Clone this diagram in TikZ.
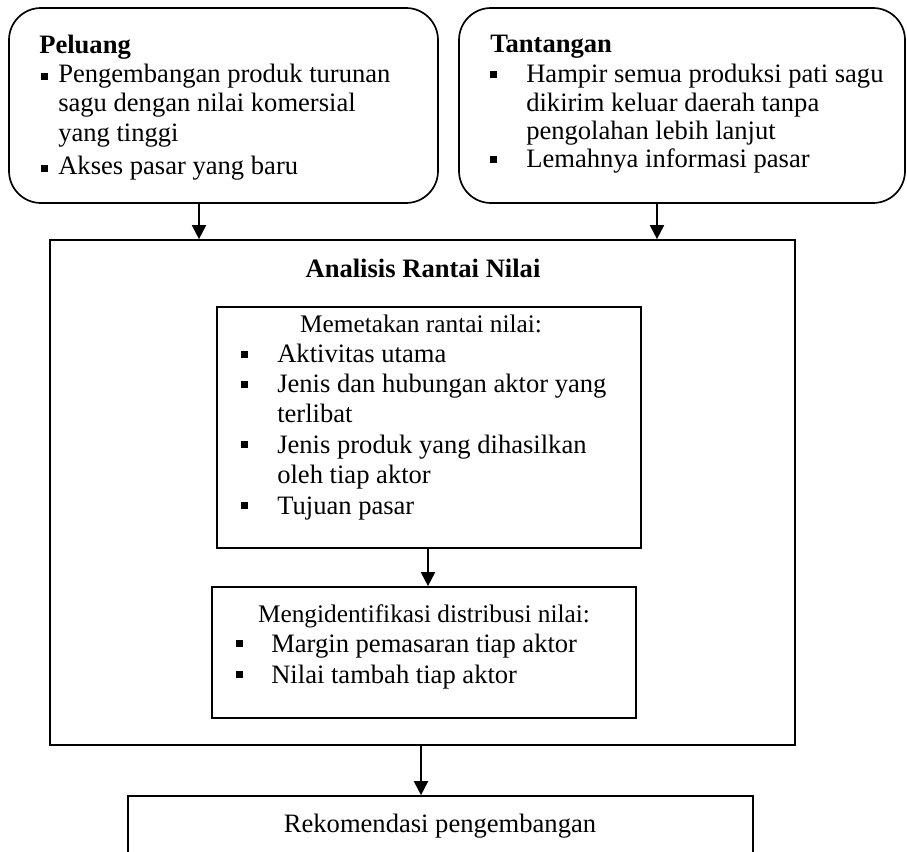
\documentclass[tikz,border=0pt]{standalone}
\usepackage{fontspec}
\setmainfont{Liberation Serif}
\usetikzlibrary{arrows.meta,fit}

\newcommand{\sqb}[1][1pt]{\rule[#1]{5pt}{5pt}}
\newcommand{\itm}[2][1pt]{\llap{\sqb[#1]\hspace{#2}}}

\begin{document}
\begin{tikzpicture}[x=0.025cm, y=-0.025cm,
  box/.style={draw, line width=1.2pt, inner sep=0pt},
  rbox/.style={box, rounded corners=0.8cm},
  txt/.style={anchor=base west, inner sep=0pt, font=\fontsize{18.9}{22}\selectfont},
  ctxt/.style={txt, anchor=base},
  hdr/.style={ctxt, font=\fontsize{18}{22}\selectfont},
  ttl/.style={txt, font=\fontsize{18.9}{22}\selectfont\bfseries},
  arr/.style={-{Triangle[width=10pt,length=10pt]}, line width=1.4pt}]

\useasboundingbox (0,0) rectangle (907,852);
\clip (0,0) rectangle (907,852);

% frames
\node[rbox, fit={(9,8) (438,203)}] (pel) {};
\node[rbox, fit={(459,8) (905,203)}] (tan) {};
\node[box, fit={(50,240) (795,745)}] (anl) {};
\node[box, fit={(217,307) (641,548)}] (map) {};
\node[box, fit={(212,587) (636,718)}] (dis) {};
\node[box, fit={(128,796) (753,880)}] (rek) {}; % runs off the page

% Peluang
\node[ttl] (pel-t) at (39,54) {Peluang};
\foreach \yy/\txt [count=\i] in {
    83/{\itm[2pt]{7pt}Pengembangan produk turunan},
    112/{sagu dengan nilai komersial},
    142/{yang tinggi},
    175/{\itm[2pt]{7pt}Akses pasar yang baru}}
  \node[txt] (pel-\i) at (58,\yy) {\txt};

% Tantangan
\node[ttl] (tan-t) at (490,53) {Tantangan};
\foreach \yy/\txt [count=\i] in {
    83/{\itm[3.5pt]{20.6pt}Hampir semua produksi pati sagu},
    112/{dikirim keluar daerah tanpa},
    140/{pengolahan lebih lanjut},
    168/{\itm[3.5pt]{20.6pt}Lemahnya informasi pasar}}
  \node[txt] (tan-\i) at (526,\yy) {\txt};

% Analisis rantai nilai
\node[ttl, anchor=base] (anl-t) at (423,278) {Analisis Rantai Nilai};

\node[hdr] (map-t) at (421,333) {Memetakan rantai nilai:};
\foreach \yy/\txt [count=\i] in {
    363/{\itm[3.5pt]{20.6pt}Aktivitas utama},
    393/{\itm[3.5pt]{20.6pt}Jenis dan hubungan aktor yang},
    423/{terlibat},
    453/{\itm[3.5pt]{20.6pt}Jenis produk yang dihasilkan},
    483/{oleh tiap aktor},
    514/{\itm[3.5pt]{20.6pt}Tujuan pasar}}
  \node[txt] (map-\i) at (277,\yy) {\txt};

\node[hdr] (dis-t) at (424,622) {Mengidentifikasi distribusi nilai:};
\foreach \yy/\txt [count=\i] in {
    652/{\itm[3.5pt]{20pt}Margin pemasaran tiap aktor},
    683/{\itm[3.5pt]{20pt}Nilai tambah tiap aktor}}
  \node[txt] (dis-\i) at (271,\yy) {\txt};

\node[ctxt] (rek-t) at (440,832) {Rekomendasi pengembangan};

% arrows
\coordinate (c1) at (199,0);
\coordinate (c2) at (657,0);
\coordinate (c3) at (428,0);
\coordinate (c4) at (421,0);
\draw[arr] (pel.south -| c1) -- (anl.north -| c1);
\draw[arr] (tan.south -| c2) -- (anl.north -| c2);
\draw[arr] (map.south -| c3) -- (dis.north -| c3);
\draw[arr] (anl.south -| c4) -- (rek.north -| c4);

\end{tikzpicture}
\end{document}
